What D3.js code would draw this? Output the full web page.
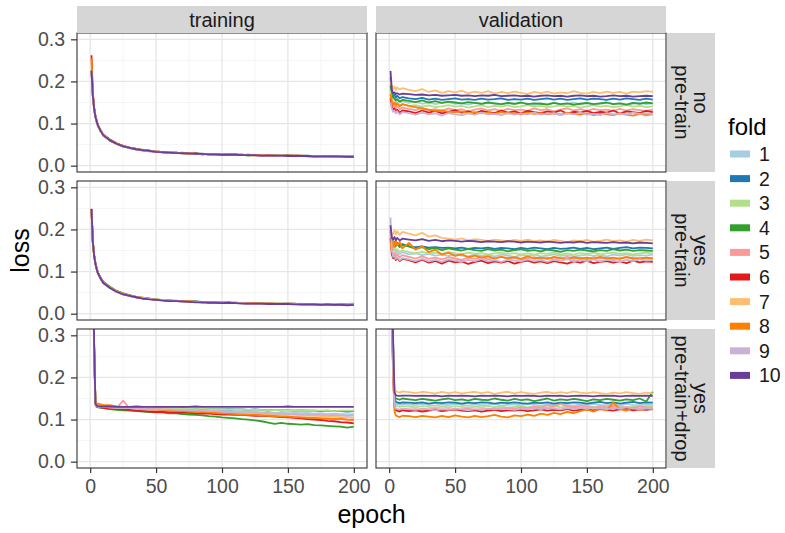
<!DOCTYPE html>
<html><head><meta charset="utf-8">
<script src="https://cdn.jsdelivr.net/npm/d3@7"></script>
<style>body{margin:0;background:#fff}svg{display:block}text{font-family:"Liberation Sans",Arial,Helvetica,sans-serif}</style>
</head><body>
<svg id="c" width="785" height="533"></svg>
<script>
// ---------- data ----------
const epochs = [1,2,3,4,5,6,8,10,15,20,25,30,35,40,45,50,55,60,65,70,75,80,85,90,95,100,105,110,115,120,125,130,135,140,145,150,155,160,165,170,175,180,185,190,195,200];
const folds = ["1","2","3","4","5","6","7","8","9","10"];
const foldColors = ["#A6CEE3","#1F78B4","#B2DF8A","#33A02C","#FB9A99","#E31A1C","#FDBF6F","#FF7F00","#CAB2D6","#6A3D9A"];
const colLabels = ["training","validation"];
const rowLabels = [["no","pre-train"],["yes","pre-train"],["yes","pre-train+drop"]];
const xTicks = [0,50,100,150,200];
const xMinor = [25,75,125,175];
const yTicks = [0.0,0.1,0.2,0.3];
const yMinor = [0.05,0.15,0.25];

// training, no pre-train
const trainNoPre = [
[.224,.166,.136,.117,.104,.094,.083,.072,.061,.051,.047,.041,.040,.036,.036,.033,.033,.030,.031,.029,.030,.027,.029,.027,.028,.026,.027,.025,.026,.025,.024,.026,.024,.025,.023,.024,.025,.023,.024,.022,.023,.023,.021,.023,.022,.021],
[.226,.168,.134,.115,.103,.096,.081,.074,.059,.052,.045,.043,.038,.037,.034,.034,.032,.031,.030,.031,.028,.029,.028,.027,.028,.027,.026,.027,.025,.026,.025,.024,.025,.024,.024,.023,.024,.024,.023,.022,.023,.022,.023,.022,.021,.022],
[.223,.164,.137,.118,.105,.095,.082,.073,.062,.053,.046,.042,.039,.038,.035,.033,.032,.032,.030,.029,.029,.028,.027,.028,.027,.026,.027,.026,.025,.025,.026,.024,.024,.025,.023,.024,.023,.024,.022,.023,.023,.022,.022,.023,.021,.022],
[.227,.167,.135,.116,.103,.093,.084,.071,.060,.052,.047,.042,.040,.037,.035,.034,.031,.031,.031,.030,.028,.029,.028,.027,.026,.027,.027,.025,.026,.024,.025,.025,.024,.023,.024,.025,.023,.023,.024,.022,.022,.023,.022,.021,.023,.022],
[.225,.165,.136,.116,.105,.094,.082,.073,.061,.051,.046,.043,.039,.036,.035,.033,.033,.031,.030,.030,.029,.028,.028,.027,.028,.026,.026,.026,.025,.026,.024,.025,.024,.024,.024,.023,.025,.023,.023,.023,.022,.022,.023,.021,.022,.022],
[.262,.175,.138,.118,.106,.095,.083,.074,.062,.053,.047,.043,.040,.037,.036,.034,.032,.031,.031,.029,.029,.029,.027,.028,.027,.027,.026,.026,.026,.025,.025,.024,.025,.024,.023,.024,.024,.023,.023,.022,.023,.023,.022,.022,.021,.022],
[.228,.166,.135,.117,.104,.095,.082,.072,.060,.052,.046,.042,.039,.037,.035,.034,.032,.031,.030,.030,.029,.028,.028,.028,.026,.027,.026,.025,.026,.025,.024,.025,.024,.024,.024,.023,.024,.023,.023,.022,.023,.022,.022,.023,.022,.021],
[.255,.172,.137,.117,.104,.094,.083,.073,.061,.052,.047,.042,.040,.036,.035,.033,.032,.031,.031,.029,.030,.028,.027,.028,.027,.026,.026,.026,.025,.025,.025,.025,.024,.024,.023,.024,.023,.024,.022,.023,.022,.023,.022,.021,.022,.021],
[.224,.165,.134,.116,.103,.094,.082,.073,.060,.051,.046,.042,.039,.037,.034,.034,.032,.031,.030,.029,.029,.028,.028,.027,.027,.027,.026,.025,.025,.025,.025,.024,.024,.024,.023,.023,.024,.023,.022,.023,.022,.022,.022,.022,.021,.022],
[.225,.166,.135,.116,.104,.095,.082,.072,.060,.052,.046,.042,.039,.037,.035,.033,.032,.031,.030,.030,.029,.028,.028,.027,.027,.026,.026,.026,.025,.025,.025,.024,.024,.024,.024,.023,.023,.023,.023,.022,.022,.022,.022,.022,.021,.021]
];
// validation, no pre-train
const valNoPre = [
[.180,.165,.158,.160,.152,.157,.150,.153,.149,.152,.147,.150,.146,.149,.151,.147,.148,.145,.149,.146,.150,.147,.145,.148,.146,.149,.147,.144,.148,.146,.149,.145,.147,.150,.146,.148,.145,.147,.149,.146,.148,.145,.147,.149,.146,.148],
[.190,.172,.165,.168,.162,.166,.160,.163,.160,.158,.161,.157,.159,.156,.158,.160,.157,.158,.156,.159,.157,.158,.160,.156,.158,.157,.159,.156,.158,.160,.157,.159,.156,.158,.160,.157,.159,.158,.156,.159,.157,.160,.158,.156,.159,.157],
[.180,.160,.152,.150,.146,.149,.143,.146,.142,.144,.140,.143,.139,.141,.144,.140,.142,.138,.141,.143,.139,.142,.140,.143,.139,.141,.144,.140,.142,.139,.141,.143,.140,.142,.138,.141,.143,.140,.142,.139,.141,.144,.140,.142,.139,.141],
[.210,.175,.162,.160,.155,.158,.152,.156,.154,.151,.155,.150,.153,.149,.152,.150,.148,.151,.149,.147,.150,.148,.146,.149,.147,.150,.146,.148,.147,.145,.149,.146,.148,.145,.147,.149,.146,.148,.150,.146,.148,.145,.149,.147,.150,.148],
[.170,.150,.140,.144,.136,.141,.134,.138,.135,.132,.137,.131,.134,.130,.136,.132,.134,.129,.133,.136,.131,.134,.130,.135,.132,.133,.130,.136,.132,.134,.129,.133,.136,.131,.134,.130,.135,.132,.133,.130,.135,.131,.134,.132,.130,.133],
[.160,.140,.132,.136,.128,.133,.126,.131,.129,.125,.131,.126,.130,.124,.128,.132,.126,.129,.124,.130,.127,.125,.131,.126,.129,.124,.130,.127,.125,.129,.126,.131,.124,.128,.126,.130,.125,.128,.126,.131,.124,.129,.127,.125,.130,.127],
[.200,.190,.182,.188,.179,.186,.181,.184,.180,.177,.182,.175,.179,.173,.177,.174,.178,.172,.176,.173,.177,.171,.175,.172,.176,.173,.170,.175,.172,.176,.171,.174,.172,.177,.173,.171,.175,.172,.176,.173,.175,.171,.176,.174,.177,.175],
[.170,.150,.145,.150,.143,.148,.141,.146,.142,.139,.136,.133,.130,.131,.128,.127,.129,.125,.127,.124,.126,.123,.127,.124,.125,.122,.126,.123,.125,.122,.124,.121,.126,.123,.121,.124,.120,.123,.122,.120,.124,.121,.119,.123,.120,.122],
[.150,.135,.128,.131,.124,.129,.122,.127,.125,.121,.126,.122,.124,.119,.125,.122,.120,.124,.121,.126,.122,.123,.120,.125,.121,.124,.122,.126,.121,.123,.125,.120,.124,.122,.126,.121,.123,.120,.125,.122,.124,.121,.126,.123,.125,.122],
[.225,.180,.172,.174,.170,.172,.169,.171,.170,.168,.169,.167,.168,.166,.167,.168,.166,.167,.165,.167,.166,.168,.165,.166,.167,.165,.166,.164,.166,.167,.165,.166,.164,.166,.167,.165,.166,.164,.165,.167,.165,.166,.164,.165,.166,.165]
];
// training, pre-train
const trainPre = [
[.246,.170,.139,.119,.106,.096,.084,.074,.062,.052,.046,.043,.039,.037,.035,.033,.032,.031,.030,.029,.029,.028,.027,.027,.027,.026,.026,.025,.025,.026,.024,.024,.025,.023,.024,.023,.023,.024,.022,.023,.022,.022,.023,.021,.022,.022],
[.247,.169,.138,.118,.105,.095,.083,.073,.061,.053,.047,.042,.040,.036,.035,.034,.032,.030,.031,.029,.028,.029,.027,.028,.026,.027,.025,.026,.025,.024,.025,.024,.024,.023,.024,.023,.024,.022,.023,.022,.023,.022,.021,.022,.022,.021],
[.248,.171,.140,.120,.106,.097,.084,.075,.063,.054,.047,.043,.040,.038,.036,.034,.033,.031,.030,.030,.029,.028,.028,.027,.026,.027,.026,.025,.026,.025,.024,.025,.024,.023,.024,.024,.023,.023,.022,.023,.022,.023,.022,.022,.021,.023],
[.246,.172,.139,.119,.107,.096,.085,.076,.064,.054,.048,.044,.040,.037,.036,.034,.032,.032,.030,.030,.029,.029,.028,.027,.027,.026,.026,.026,.025,.025,.025,.024,.024,.024,.023,.024,.023,.023,.023,.022,.022,.023,.022,.022,.023,.024],
[.247,.169,.138,.118,.105,.095,.083,.074,.062,.052,.046,.042,.039,.037,.035,.033,.032,.031,.030,.029,.028,.028,.028,.027,.026,.026,.026,.025,.025,.025,.024,.024,.024,.024,.023,.023,.023,.023,.022,.022,.022,.022,.022,.022,.021,.022],
[.248,.170,.139,.119,.106,.096,.084,.074,.062,.053,.047,.043,.039,.037,.035,.033,.033,.031,.030,.030,.029,.028,.027,.028,.026,.026,.026,.025,.025,.025,.024,.024,.024,.023,.023,.024,.023,.022,.023,.022,.022,.022,.021,.022,.021,.021],
[.245,.168,.138,.118,.105,.096,.083,.074,.061,.053,.046,.042,.040,.037,.035,.034,.032,.031,.031,.029,.029,.028,.027,.027,.027,.026,.026,.025,.025,.025,.024,.024,.024,.023,.024,.023,.023,.023,.022,.023,.022,.022,.022,.021,.022,.022],
[.248,.171,.139,.119,.106,.096,.084,.074,.062,.053,.048,.043,.039,.038,.035,.033,.032,.032,.030,.029,.029,.028,.028,.027,.026,.026,.027,.025,.025,.024,.025,.024,.024,.024,.023,.023,.024,.022,.022,.023,.022,.022,.022,.023,.021,.022],
[.247,.170,.138,.118,.105,.095,.083,.073,.061,.052,.046,.042,.039,.037,.035,.033,.032,.031,.030,.029,.028,.028,.027,.027,.026,.026,.026,.025,.025,.024,.024,.024,.024,.023,.023,.023,.023,.022,.022,.022,.022,.022,.022,.021,.022,.021],
[.249,.170,.138,.118,.105,.095,.083,.073,.061,.052,.046,.042,.039,.036,.034,.033,.031,.030,.030,.029,.028,.027,.027,.026,.026,.025,.026,.025,.024,.024,.024,.024,.023,.023,.023,.023,.022,.022,.022,.022,.021,.022,.021,.021,.020,.021]
];
// validation, pre-train
const valPre = [
[.190,.160,.150,.152,.145,.149,.142,.146,.141,.143,.139,.142,.138,.140,.137,.141,.138,.136,.140,.137,.139,.136,.140,.138,.135,.139,.137,.140,.136,.138,.141,.137,.139,.136,.138,.140,.137,.139,.136,.140,.138,.141,.137,.139,.138,.140],
[.195,.175,.168,.171,.165,.168,.162,.165,.160,.158,.160,.157,.158,.156,.157,.155,.157,.154,.156,.155,.157,.154,.156,.155,.153,.156,.154,.157,.155,.153,.156,.154,.155,.157,.154,.156,.153,.155,.157,.154,.156,.158,.155,.157,.156,.155],
[.190,.165,.155,.158,.150,.153,.147,.150,.146,.144,.147,.143,.145,.142,.146,.143,.141,.145,.142,.144,.141,.143,.145,.142,.144,.141,.143,.140,.144,.142,.145,.141,.143,.140,.144,.142,.145,.141,.143,.145,.142,.144,.141,.143,.145,.143],
[.200,.175,.165,.168,.160,.166,.158,.163,.160,.154,.158,.153,.156,.151,.155,.152,.150,.154,.151,.149,.153,.150,.152,.148,.151,.153,.149,.151,.148,.152,.150,.147,.151,.149,.152,.150,.148,.151,.149,.153,.150,.152,.149,.151,.150,.149],
[.185,.150,.140,.145,.136,.142,.134,.139,.135,.131,.136,.130,.133,.129,.134,.131,.128,.133,.130,.134,.129,.132,.135,.130,.133,.128,.132,.134,.130,.133,.129,.131,.135,.130,.132,.129,.134,.131,.133,.129,.132,.135,.130,.133,.131,.132],
[.180,.140,.132,.136,.127,.133,.125,.130,.127,.122,.128,.121,.125,.119,.126,.122,.124,.118,.123,.126,.120,.124,.121,.125,.119,.123,.126,.121,.124,.120,.125,.122,.119,.124,.121,.126,.120,.123,.125,.121,.124,.120,.126,.122,.124,.123],
[.205,.185,.190,.198,.188,.196,.187,.194,.190,.186,.192,.183,.186,.180,.178,.176,.179,.174,.177,.175,.173,.176,.174,.172,.175,.173,.176,.172,.174,.171,.175,.173,.170,.174,.172,.175,.171,.173,.176,.172,.174,.171,.175,.173,.176,.174],
[.170,.150,.172,.158,.176,.162,.170,.155,.168,.152,.160,.146,.152,.140,.145,.137,.141,.134,.138,.133,.136,.131,.135,.132,.134,.130,.136,.131,.133,.130,.135,.132,.129,.134,.131,.133,.130,.135,.131,.133,.130,.134,.132,.130,.133,.131],
[.228,.150,.135,.138,.130,.134,.127,.132,.129,.125,.130,.124,.128,.123,.129,.126,.124,.128,.125,.130,.124,.127,.123,.128,.126,.124,.129,.125,.127,.123,.128,.125,.130,.124,.127,.125,.129,.124,.128,.126,.123,.128,.125,.129,.126,.127],
[.210,.180,.176,.182,.175,.180,.174,.178,.176,.174,.177,.173,.175,.172,.174,.173,.171,.173,.172,.170,.172,.171,.170,.172,.171,.169,.171,.170,.169,.171,.170,.168,.170,.169,.171,.168,.170,.169,.168,.170,.168,.169,.167,.169,.168,.167]
];
// training, pre-train + dropout
const trainDrop = [
[.80,.52,.27,.137,.132,.131,.130,.130,.129,.128,.129,.127,.127,.126,.127,.125,.125,.124,.125,.123,.123,.122,.123,.121,.121,.120,.121,.119,.119,.118,.119,.117,.118,.116,.117,.115,.116,.115,.116,.114,.115,.113,.114,.113,.112,.113],
[.82,.53,.28,.138,.133,.131,.131,.130,.130,.129,.129,.128,.129,.128,.127,.128,.127,.127,.126,.127,.126,.125,.126,.125,.125,.124,.125,.124,.124,.123,.124,.123,.122,.123,.122,.122,.121,.122,.121,.121,.120,.121,.120,.120,.119,.120],
[.79,.51,.27,.136,.132,.131,.130,.130,.129,.130,.129,.129,.128,.128,.128,.127,.127,.127,.126,.126,.126,.125,.126,.125,.125,.124,.124,.124,.124,.123,.123,.123,.122,.123,.122,.122,.122,.121,.122,.121,.121,.121,.120,.121,.121,.121],
[.81,.52,.27,.135,.130,.129,.128,.127,.125,.123,.122,.121,.120,.119,.118,.117,.117,.115,.115,.113,.112,.111,.110,.108,.107,.105,.104,.103,.101,.100,.098,.096,.093,.090,.092,.090,.089,.088,.089,.087,.086,.085,.084,.083,.081,.083],
[.80,.51,.26,.137,.133,.131,.130,.129,.128,.127,.145,.126,.125,.124,.123,.122,.122,.121,.120,.119,.119,.118,.117,.116,.116,.115,.114,.113,.112,.112,.111,.110,.109,.108,.108,.107,.106,.105,.104,.104,.103,.102,.102,.101,.100,.101],
[.80,.52,.27,.136,.131,.130,.129,.128,.126,.125,.124,.123,.121,.120,.119,.118,.118,.117,.117,.116,.116,.115,.114,.114,.113,.112,.112,.111,.111,.110,.109,.109,.108,.107,.106,.105,.104,.103,.101,.100,.099,.097,.096,.094,.093,.091],
[.81,.52,.27,.137,.132,.131,.130,.130,.129,.128,.128,.127,.126,.126,.125,.124,.124,.123,.123,.122,.121,.121,.120,.119,.119,.118,.117,.117,.116,.115,.115,.114,.113,.113,.112,.111,.111,.110,.109,.109,.108,.107,.107,.106,.105,.105],
[.80,.52,.27,.138,.137,.138,.136,.135,.134,.131,.130,.128,.127,.126,.125,.124,.123,.122,.121,.120,.119,.118,.118,.117,.116,.115,.114,.113,.112,.111,.111,.110,.109,.108,.107,.107,.106,.105,.104,.104,.103,.102,.101,.102,.100,.099],
[.80,.51,.26,.136,.132,.131,.130,.130,.129,.128,.128,.127,.127,.126,.125,.125,.124,.124,.123,.123,.122,.121,.121,.120,.120,.119,.118,.118,.117,.117,.116,.116,.115,.114,.114,.113,.113,.112,.112,.111,.111,.110,.111,.110,.109,.110],
[.83,.54,.28,.138,.133,.132,.131,.131,.131,.130,.130,.130,.131,.130,.130,.130,.130,.130,.130,.130,.130,.131,.130,.130,.130,.130,.130,.130,.130,.130,.130,.130,.130,.130,.130,.131,.130,.130,.130,.130,.130,.130,.130,.130,.130,.130]
];
// validation, pre-train + dropout
const valDrop = [
[.58,.38,.22,.145,.138,.137,.135,.137,.136,.134,.137,.135,.133,.136,.134,.137,.135,.133,.136,.134,.135,.137,.133,.135,.136,.134,.137,.135,.133,.136,.134,.138,.135,.133,.136,.134,.137,.135,.134,.136,.133,.137,.135,.134,.136,.135],
[.60,.40,.23,.150,.143,.141,.139,.141,.140,.139,.141,.138,.140,.139,.141,.140,.138,.140,.139,.141,.140,.138,.140,.139,.141,.139,.138,.140,.139,.141,.138,.140,.139,.141,.140,.138,.140,.142,.139,.141,.138,.140,.142,.139,.141,.140],
[.58,.38,.22,.140,.133,.132,.130,.132,.131,.129,.132,.130,.128,.131,.129,.132,.130,.128,.131,.129,.132,.130,.131,.128,.130,.132,.129,.131,.130,.128,.132,.129,.131,.130,.128,.132,.130,.131,.129,.132,.130,.128,.131,.130,.132,.131],
[.62,.45,.28,.160,.150,.149,.147,.150,.148,.146,.149,.147,.145,.148,.150,.146,.148,.145,.149,.147,.146,.150,.147,.145,.149,.146,.148,.144,.147,.150,.145,.148,.146,.149,.147,.144,.148,.146,.149,.147,.145,.148,.146,.150,.143,.166],
[.56,.36,.21,.132,.126,.124,.122,.125,.123,.125,.122,.124,.126,.123,.125,.122,.124,.126,.123,.125,.124,.127,.125,.128,.126,.129,.127,.130,.128,.134,.131,.137,.132,.129,.133,.130,.128,.131,.129,.132,.128,.130,.127,.131,.129,.128],
[.56,.36,.21,.130,.122,.121,.119,.122,.120,.122,.119,.121,.123,.120,.122,.125,.121,.120,.122,.119,.121,.123,.120,.122,.121,.123,.120,.122,.124,.121,.123,.122,.125,.121,.123,.124,.122,.125,.123,.121,.124,.126,.122,.124,.123,.125],
[.62,.45,.28,.175,.168,.166,.164,.167,.165,.163,.166,.164,.162,.166,.163,.165,.162,.164,.166,.163,.165,.161,.164,.166,.162,.165,.163,.161,.164,.166,.162,.165,.163,.167,.164,.162,.165,.163,.161,.164,.162,.165,.163,.161,.164,.162],
[.56,.36,.20,.120,.110,.108,.106,.109,.108,.106,.109,.107,.105,.109,.106,.110,.107,.105,.109,.106,.108,.111,.107,.105,.110,.108,.112,.109,.114,.111,.116,.113,.118,.115,.120,.124,.119,.126,.122,.140,.125,.121,.128,.123,.126,.124],
[.56,.36,.21,.133,.126,.125,.124,.126,.125,.123,.126,.124,.122,.125,.123,.126,.124,.122,.125,.123,.126,.124,.127,.125,.123,.126,.124,.127,.125,.128,.126,.124,.127,.125,.128,.126,.129,.127,.125,.128,.126,.129,.127,.125,.128,.126],
[.64,.46,.29,.165,.158,.157,.156,.157,.157,.156,.157,.156,.157,.155,.157,.156,.157,.156,.155,.157,.156,.157,.156,.155,.157,.156,.157,.156,.155,.157,.156,.157,.155,.156,.157,.156,.155,.157,.156,.157,.155,.156,.157,.156,.157,.156]
];

const panels = [
  [trainNoPre, valNoPre],
  [trainPre, valPre],
  [trainDrop, valDrop]
];

// ---------- layout ----------
const svg = d3.select("#c");
const colX = [77, 376];
const rowY = [33, 181, 329];
const pw = 290, ph = 139;
const stripH = 27, stripW = 48;
const tickCol = "#333333", labCol = "#4d4d4d";
const FONT = '"Liberation Sans",Arial,sans-serif';

const x = d3.scaleLinear().domain([-10, 210]).range([0, pw]);
const y = d3.scaleLinear().domain([-0.015, 0.315]).range([ph, 0]);
const line = d3.line().x(d => x(d[0])).y(d => y(d[1]));

svg.append("rect").attr("width",785).attr("height",533).attr("fill","#fff");

const defs = svg.append("defs");
defs.append("clipPath").attr("id","pclip").append("rect").attr("width",pw).attr("height",ph);

panels.forEach((row, ri) => {
  row.forEach((series, ci) => {
    const g = svg.append("g").attr("transform", `translate(${colX[ci]},${rowY[ri]})`);
    g.append("rect").attr("width",pw).attr("height",ph).attr("fill","#fff");
    // grid
    g.selectAll(".xmin").data(xMinor).join("line")
      .attr("x1",d=>x(d)).attr("x2",d=>x(d)).attr("y1",0).attr("y2",ph)
      .attr("stroke","#f2f2f2").attr("stroke-width",0.8);
    g.selectAll(".ymin").data(yMinor).join("line")
      .attr("y1",d=>y(d)).attr("y2",d=>y(d)).attr("x1",0).attr("x2",pw)
      .attr("stroke","#f2f2f2").attr("stroke-width",0.8);
    g.selectAll(".xmaj").data(xTicks).join("line")
      .attr("x1",d=>x(d)).attr("x2",d=>x(d)).attr("y1",0).attr("y2",ph)
      .attr("stroke","#e6e6e6").attr("stroke-width",1.3);
    g.selectAll(".ymaj").data(yTicks).join("line")
      .attr("y1",d=>y(d)).attr("y2",d=>y(d)).attr("x1",0).attr("x2",pw)
      .attr("stroke","#e6e6e6").attr("stroke-width",1.3);
    // lines
    const lg = g.append("g").attr("clip-path","url(#pclip)");
    series.forEach((vals, fi) => {
      const pts = vals.slice(0, epochs.length).map((v,i) => [epochs[i], v]);
      lg.append("path").attr("d", line(pts)).attr("fill","none")
        .attr("stroke", foldColors[fi]).attr("stroke-width",1.8)
        .attr("stroke-linejoin","round");
    });
    // border
    g.append("rect").attr("width",pw).attr("height",ph).attr("fill","none")
      .attr("stroke","#333").attr("stroke-width",1.1);

    // y axis
    if (ci === 0) {
      const ax = g.append("g").call(d3.axisLeft(y).tickValues(yTicks).tickSize(6).tickPadding(6).tickFormat(d3.format(".1f")));
      ax.select(".domain").remove();
      ax.selectAll("line").attr("stroke",tickCol).attr("stroke-width",1.2);
      ax.selectAll("text").attr("fill",labCol).style("font-size","19.5px").style("font-family",FONT);
    }
    // x axis
    if (ri === 2) {
      const ax = g.append("g").attr("transform",`translate(0,${ph})`)
        .call(d3.axisBottom(x).tickValues(xTicks).tickSize(5).tickPadding(6));
      ax.select(".domain").remove();
      ax.selectAll("line").attr("stroke",tickCol).attr("stroke-width",1.2);
      ax.selectAll("text").attr("fill",labCol).style("font-size","19.5px").style("font-family",FONT);
    }
  });
});

// top strips
colLabels.forEach((lab, ci) => {
  svg.append("rect").attr("x",colX[ci]).attr("y",rowY[0]-stripH).attr("width",pw).attr("height",stripH)
    .attr("fill","#d6d6d6");
  svg.append("text").attr("x",colX[ci]+pw/2).attr("y",rowY[0]-stripH/2).attr("dy","0.35em")
    .attr("text-anchor","middle").attr("fill","#1a1a1a").style("font-size","20px").text(lab);
});
// right strips
rowLabels.forEach((labs, ri) => {
  const sx = colX[1] + pw + 1;
  svg.append("rect").attr("x",sx).attr("y",rowY[ri]).attr("width",stripW).attr("height",ph)
    .attr("fill","#d6d6d6");
  const cx = sx + stripW/2, cy = rowY[ri] + ph/2;
  const t = svg.append("text").attr("transform",`translate(${cx},${cy}) rotate(90)`)
    .attr("text-anchor","middle").attr("fill","#1a1a1a").style("font-size","20px");
  labs.forEach((l, li) => {
    t.append("tspan").attr("x",0).attr("y", (li === 0 ? -9.5 : 9)).attr("dy","0.35em").text(l);
  });
});

// axis titles
svg.append("text").attr("x",(colX[0]+colX[1]+pw)/2).attr("y",523).attr("text-anchor","middle")
  .attr("fill","#000").style("font-size","25px").text("epoch");
svg.append("text").attr("transform",`translate(29,${(rowY[0]+rowY[2]+ph)/2}) rotate(-90)`)
  .attr("text-anchor","middle").attr("fill","#000").style("font-size","25px").text("loss");

// legend
const lg = svg.append("g").attr("transform","translate(728,0)");
lg.append("text").attr("x",0).attr("y",135).attr("fill","#000").style("font-size","24px").text("fold");
folds.forEach((f, i) => {
  const cy = 154 + i*24.6;
  lg.append("rect").attr("x",2).attr("y",cy-3.5).attr("width",20).attr("height",7).attr("fill",foldColors[i]);
  lg.append("text").attr("x",31).attr("y",cy).attr("dy","0.36em").attr("fill","#1a1a1a").style("font-size","19.5px").text(f);
});
</script>
</body></html>
